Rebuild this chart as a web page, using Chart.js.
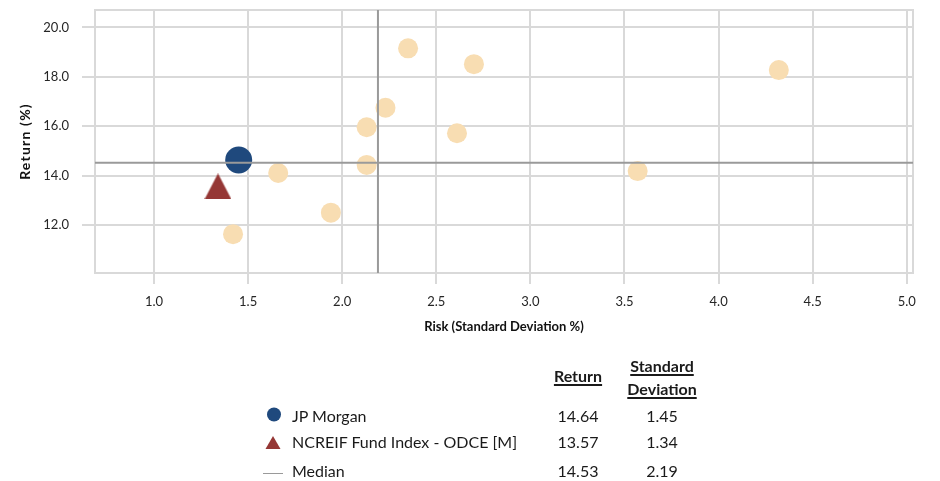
<!DOCTYPE html>
<html>
<head>
<meta charset="utf-8">
<script src="https://cdn.jsdelivr.net/npm/chart.js@4/dist/chart.umd.min.js"></script>
<style>
html,body{margin:0;padding:0;background:#fff;}
#wrap{position:relative;width:940px;height:481px;overflow:hidden;font-family:Lato,"Open Sans",sans-serif;color:#1a1a1a;}
#chartBox{position:absolute;left:0;top:0;width:940px;height:481px;}
.t{position:absolute;font-size:16px;line-height:20px;white-space:nowrap;}
.c{text-align:center;width:120px;}
.h{font-weight:bold;text-decoration:underline;text-underline-offset:2px;text-decoration-thickness:1.5px;}
.mk{position:absolute;}
</style>
</head>
<body>
<div id="wrap">
  <div id="chartBox"><canvas id="chart"></canvas></div>
  <div id="table"></div>
</div>
<script>
// ---- data ----
const peerRisk   = [1.42, 1.66, 1.94, 2.13, 2.13, 2.23, 2.35, 2.61, 2.70, 3.57, 4.32];
const peerReturn = [11.64, 14.11, 12.51, 14.44, 15.96, 16.75, 19.15, 15.72, 18.51, 14.19, 18.27];
const seriesNames  = ['JP Morgan', 'NCREIF Fund Index - ODCE [M]', 'Median'];
const seriesReturn = [14.64, 13.57, 14.53];
const seriesRisk   = [1.45, 1.34, 2.19];
const xTicks = [1.0, 1.5, 2.0, 2.5, 3.0, 3.5, 4.0, 4.5, 5.0];
const yTicks = [12.0, 14.0, 16.0, 18.0, 20.0];
const xRange = [0.6865, 5.033];
const yRange = [10.07, 20.70];
const xTitle = 'Risk (Standard Deviation %)';
const yTitle = 'Return (%)';
const colHeads = ['Return', 'Standard<br>Deviation'];

// ---- styles ----
const C_JPM = '#1F497D', C_IDX = '#953735', C_PEER = '#F8DDB2', C_MED = '#9A9A9A', C_GRID = '#D9D9D9';

function triangleImg(w, h, color) {
  const c = document.createElement('canvas');
  c.width = w; c.height = h;
  const g = c.getContext('2d');
  g.fillStyle = color;
  g.beginPath(); g.moveTo(w / 2, 0); g.lineTo(w, h); g.lineTo(0, h); g.closePath(); g.fill();
  return c;
}

const framePlugin = {
  id: 'frame',
  beforeDraw(chart) {
    const ys = chart.scales.y;
    if (ys && !ys._spacedTitle) {
      const orig = ys.drawTitle.bind(ys);
      ys.drawTitle = function () {
        const ctx = this.ctx;
        const prev = ctx.letterSpacing;
        ctx.letterSpacing = '1.2px';
        orig();
        ctx.letterSpacing = prev || '0px';
      };
      ys._spacedTitle = true;
    }
  },
  beforeDatasetsDraw(chart) {
    const {ctx, chartArea: a} = chart;
    ctx.save();
    ctx.strokeStyle = C_GRID; ctx.lineWidth = 2;
    ctx.strokeRect(a.left, a.top, a.right - a.left, a.bottom - a.top);
    ctx.restore();
  }
};

function build() {
  const peers = peerRisk.map((r, i) => ({x: r, y: peerReturn[i]}));
  const tickFont = {family: 'Lato', size: 13};
  const titleFont = {family: 'Lato', size: 13, weight: 'bold'};
  new Chart(document.getElementById('chart'), {
    type: 'scatter',
    data: {
      datasets: [
        {label: seriesNames[2], data: [{x: xRange[0], y: seriesReturn[2]}, {x: xRange[1], y: seriesReturn[2]}],
         showLine: true, borderColor: C_MED, borderWidth: 2, pointRadius: 0, order: 0},
        {label: seriesNames[2], data: [{x: seriesRisk[2], y: yRange[0]}, {x: seriesRisk[2], y: yRange[1]}],
         showLine: true, borderColor: C_MED, borderWidth: 2, pointRadius: 0, order: 0},
        {label: seriesNames[0], data: [{x: seriesRisk[0], y: seriesReturn[0]}],
         backgroundColor: C_JPM, borderWidth: 0, pointRadius: 13.5, order: 1},
        {label: seriesNames[1], data: [{x: seriesRisk[1], y: seriesReturn[1]}],
         pointStyle: triangleImg(27, 26, C_IDX), pointRadius: 13, order: 2},
        {label: 'Peers', data: peers, backgroundColor: C_PEER, borderWidth: 0, pointRadius: 10, order: 3}
      ]
    },
    options: {
      responsive: true, maintainAspectRatio: false, animation: false,
      events: [],
      layout: {autoPadding: false, padding: {left: 0, top: 10, right: 27, bottom: 138}},
      plugins: {legend: {display: false}, tooltip: {enabled: false}},
      scales: {
        x: {
          type: 'linear', min: xRange[0], max: xRange[1],
          afterBuildTicks: s => { s.ticks = xTicks.map(v => ({value: v})); },
          afterFit: s => { s.height = 70; s.paddingLeft = 0; s.paddingRight = 0; },
          grid: {color: C_GRID, lineWidth: 2, tickLength: 11},
          border: {display: false},
          ticks: {padding: 10, autoSkip: false, maxRotation: 0, font: tickFont, color: '#262626',
                  callback: v => Number(v).toFixed(1)},
          title: {display: true, text: xTitle, font: titleFont, color: '#111', padding: {top: 0, bottom: 8}}
        },
        y: {
          type: 'linear', min: yRange[0], max: yRange[1],
          afterBuildTicks: s => { s.ticks = yTicks.map(v => ({value: v})); },
          afterFit: s => { s.width = 95; s.paddingTop = 0; s.paddingBottom = 0; },
          grid: {color: C_GRID, lineWidth: 2, tickLength: 13},
          border: {display: false},
          ticks: {padding: 13, autoSkip: false, font: tickFont, color: '#262626',
                  callback: v => Number(v).toFixed(1)},
          title: {display: true, text: yTitle, font: {family: 'Lato', size: 14, weight: 'bold'}, color: '#111',
                  padding: {top: 16.6, bottom: 0}}
        }
      }
    },
    plugins: [framePlugin]
  });

  // ---- legend table ----
  const tb = document.getElementById('table');
  const colX = [578, 662];
  const rowY = [416, 442.5, 471];
  let html = '';
  html += `<div class="t c h" style="left:${colX[0] - 60}px;top:${376 - 10.4}px">${colHeads[0]}</div>`;
  html += `<div class="t c h" style="left:${colX[1] - 60}px;top:${364 - 10.4}px;line-height:23.5px">${colHeads[1]}</div>`;
  seriesNames.forEach((n, i) => {
    const top = rowY[i] - 10.4;
    html += `<div class="t" style="left:292px;top:${top}px">${n}</div>`;
    html += `<div class="t c" style="left:${colX[0] - 60}px;top:${top}px">${seriesReturn[i].toFixed(2)}</div>`;
    html += `<div class="t c" style="left:${colX[1] - 60}px;top:${top}px">${seriesRisk[i].toFixed(2)}</div>`;
  });
  html += `<svg class="mk" style="left:0;top:0" width="940" height="481">
    <circle cx="274" cy="${rowY[0] - 1.5}" r="7" fill="${C_JPM}"/>
    <polygon points="273,${rowY[1] - 6.5} 280.5,${rowY[1] + 6.5} 265.5,${rowY[1] + 6.5}" fill="${C_IDX}"/>
    <line x1="263" y1="${rowY[2] + 2.5}" x2="283" y2="${rowY[2] + 2.5}" stroke="${C_MED}" stroke-width="1"/>
  </svg>`;
  tb.innerHTML = html;
}

(document.fonts && document.fonts.load
  ? Promise.all([document.fonts.load('13px Lato'), document.fonts.load('bold 13px Lato')]).catch(() => {})
  : Promise.resolve()).then(build);
</script>
</body>
</html>
